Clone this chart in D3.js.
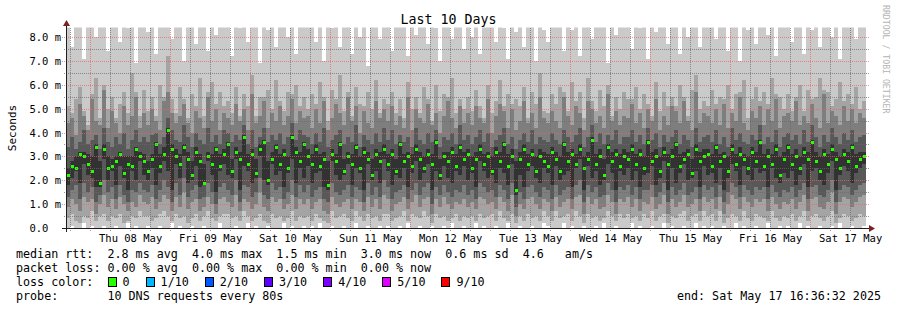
<!DOCTYPE html>
<html>
<head>
<meta charset="utf-8">
<script src="https://cdn.jsdelivr.net/npm/d3@7"></script>
<style>
body { margin: 0; background: #fff; }
text { font-family: "DejaVu Sans Mono", monospace; white-space: pre; }
</style>
</head>
<body>
<div id="container"></div>
<script>
// RTT per time slot, in units of 0.1 ms (10 DNS pings per slot, sorted low..high)
const median = [
    22,26,25,31,30,27,24,34,19,33,25,26,28,31,23,27,26,33,30,28,
    24,29,35,26,31,41,33,30,27,34,29,22,32,28,19,30,27,33,26,31,
    35,24,32,29,38,27,31,23,33,36,20,29,34,27,31,25,38,32,28,35,
    30,27,33,26,29,18,31,28,35,24,30,27,34,25,32,29,22,31,28,33,
    27,31,24,35,28,30,26,33,29,25,31,27,36,22,30,28,32,26,34,29,
    31,25,29,33,27,30,24,32,28,35,26,30,16,29,33,27,31,24,30,28,
    26,32,29,24,35,28,31,27,33,25,29,37,27,30,22,34,28,31,26,30,
    29,33,27,31,25,36,28,30,24,32,27,30,35,26,29,31,23,33,28,30,
    31,26,34,28,30,24,33,27,31,29,25,32,28,36,26,30,27,33,22,29,
    34,27,30,25,32,29,36,28,24,31,27,33,29,25,31,28,34,26,29,30
];
const p1 = [
    0,1,0,0,2,0,1,0,0,1,0,0,1,0,0,2,0,1,0,0,
    1,0,0,1,0,0,2,0,1,0,0,1,0,0,1,0,0,0,2,0,
    0,0,1,0,0,2,0,1,0,0,1,0,0,0,2,0,1,0,0,1,
    0,1,0,2,0,0,1,0,0,1,0,0,2,0,0,1,0,0,1,0,
    1,0,0,1,0,2,0,0,1,0,0,1,0,0,1,0,2,0,0,1,
    0,0,2,0,1,0,0,1,0,0,2,0,0,1,0,0,1,0,0,2,
    1,0,0,0,2,0,1,0,0,1,0,0,1,0,2,0,0,1,0,0,
    0,2,0,1,0,0,1,0,0,2,0,1,0,0,1,0,0,2,0,1,
    0,1,0,0,1,0,0,2,0,1,0,0,1,0,0,2,0,0,1,0,
    1,0,0,2,0,1,0,0,1,0,0,1,0,2,0,0,1,0,0,1
];
const p2 = [
    4,6,3,2,5,4,7,3,5,6,3,5,4,6,2,3,5,4,7,5,
    5,3,4,6,7,5,3,6,4,5,2,4,6,3,5,7,4,3,5,6,
    6,4,5,3,7,5,3,4,6,3,2,6,4,5,3,4,7,3,5,4,
    5,3,6,4,3,2,7,4,5,6,4,3,7,5,3,6,4,5,3,6,
    6,3,4,5,7,3,6,5,4,7,5,2,6,4,5,3,4,6,3,5,
    4,5,3,6,4,5,6,3,7,4,3,6,2,5,3,6,4,5,3,7,
    5,3,7,4,5,6,3,7,5,2,6,4,5,3,4,7,5,3,6,4,
    6,4,5,3,6,4,7,3,5,6,2,5,4,6,7,3,5,6,3,7,
    5,6,3,7,2,4,6,5,3,7,4,3,6,5,4,3,7,4,3,5,
    4,6,3,5,7,3,5,6,4,3,5,7,2,4,6,5,3,4,6,5
];
const p3 = [
    9,12,10,7,13,11,12,6,10,14,9,12,8,13,10,7,11,9,14,11,
    10,13,8,11,14,12,7,13,9,15,8,11,12,7,9,13,10,6,12,13,
    11,9,14,7,12,11,8,10,15,9,7,13,11,12,8,10,14,8,12,10,
    12,8,11,12,7,6,13,10,9,11,12,8,12,11,7,13,9,12,8,14,
    12,7,10,11,13,8,11,14,9,12,13,6,12,9,13,10,8,11,10,12,
    9,11,8,13,12,10,11,8,13,11,7,14,5,10,8,12,13,10,8,12,
    11,7,13,9,11,12,8,13,14,6,13,10,12,8,9,14,11,6,12,11,
    13,9,12,7,11,10,13,8,10,14,6,12,9,11,14,9,10,12,7,13,
    11,12,8,13,6,10,14,12,8,13,11,9,12,11,12,7,13,10,8,11,
    10,12,8,11,14,7,12,13,9,8,11,15,6,11,13,12,9,11,13,14
];
const p4 = [
    13,16,18,12,19,15,17,11,14,20,15,17,12,18,14,11,16,15,19,16,
    15,18,12,16,20,17,11,19,14,21,13,16,18,12,13,19,15,10,17,19,
    16,14,20,11,18,17,13,15,21,14,12,19,16,17,12,15,20,13,18,15,
    18,13,16,17,12,11,19,15,14,16,18,13,17,16,11,19,14,17,13,20,
    17,12,15,16,18,12,16,19,14,17,19,10,17,14,18,15,13,16,15,18,
    14,16,12,19,17,15,16,13,18,16,12,19,9,15,12,17,18,15,13,17,
    16,12,18,14,16,17,12,18,20,11,18,15,17,13,14,19,16,11,17,16,
    18,14,17,12,16,16,18,13,15,19,11,17,14,16,19,14,15,17,12,18,
    16,17,13,18,11,15,19,17,13,18,16,14,17,16,17,12,18,15,13,16,
    15,17,13,16,19,12,17,18,14,13,16,20,11,16,18,17,14,16,18,19
];
const p5 = [
    18,21,24,19,27,22,21,17,17,29,20,24,18,26,21,16,24,20,28,22,
    20,25,18,23,28,24,16,27,21,30,19,20,26,17,18,28,22,15,24,27,
    22,21,29,16,26,24,19,21,30,20,18,27,22,24,17,23,29,19,25,21,
    26,19,23,24,17,16,28,22,20,22,27,18,25,23,16,27,20,24,19,29,
    24,18,22,21,25,17,23,28,20,23,27,16,24,20,26,21,19,24,22,26,
    20,23,17,28,24,21,22,19,25,23,18,27,14,22,17,24,26,21,19,25,
    23,18,26,20,22,24,17,25,29,16,26,21,24,18,20,27,23,16,24,22,
    25,20,24,17,22,23,26,18,21,28,16,25,19,23,27,20,21,24,17,26,
    22,23,19,25,16,21,27,24,18,26,22,20,25,23,24,17,25,21,19,23,
    21,24,18,22,27,17,24,25,20,18,23,28,16,22,26,24,19,23,25,27
];
const p6 = [
    25,28,30,32,32,31,30,35,28,35,30,29,30,32,30,30,30,34,32,31,
    28,31,36,31,34,42,35,33,31,35,32,28,34,31,27,32,31,34,31,33,
    36,29,34,32,39,31,33,29,35,37,28,32,35,31,33,30,39,34,32,36,
    33,31,35,31,32,28,33,31,36,29,32,31,35,30,34,32,29,33,32,35,
    31,33,29,36,31,32,31,35,32,30,33,31,37,29,32,32,34,31,35,32,
    33,30,32,35,31,32,30,34,32,36,31,33,28,32,35,31,33,30,33,32,
    31,34,32,30,36,32,33,31,35,30,32,38,31,33,29,35,32,33,31,33,
    32,35,31,33,30,37,32,33,30,34,31,33,36,31,32,33,29,35,32,33,
    33,31,35,31,32,30,35,31,34,31,30,34,32,37,31,33,31,35,30,32,
    35,31,33,30,34,32,37,32,30,33,31,35,32,30,33,32,35,31,32,32
];
const p7 = [
    34,38,33,36,41,35,37,39,33,42,36,34,38,35,40,33,37,41,36,38,
    36,39,40,35,38,46,41,37,36,43,38,34,40,37,35,42,36,39,35,41,
    40,36,39,37,43,35,41,34,38,42,36,39,37,40,35,38,44,37,41,39,
    38,35,40,36,42,34,37,39,41,35,38,36,43,34,39,37,35,40,36,42,
    37,41,35,39,36,38,34,42,37,35,40,36,41,34,38,37,40,35,43,37,
    39,35,38,41,36,40,34,37,39,42,35,38,33,37,40,36,41,35,38,37,
    36,40,37,35,41,38,36,39,42,34,38,43,36,40,35,39,37,41,35,38,
    38,41,36,39,35,42,37,40,34,39,36,38,41,35,39,37,34,42,36,38,
    39,36,41,35,38,34,42,37,40,36,35,39,37,43,35,38,36,41,34,38,
    40,37,39,35,41,36,43,38,34,39,36,42,38,35,40,37,41,36,38,39
];
const p8 = [
    44,46,39,52,47,41,54,45,43,58,42,49,44,40,51,43,47,55,42,48,
    43,50,45,41,53,57,48,44,47,52,44,40,49,46,42,55,45,50,41,48,
    46,43,52,45,50,41,56,44,47,53,42,48,45,51,43,47,54,44,49,46,
    47,42,50,44,53,41,46,52,48,43,55,45,51,40,49,44,42,53,46,50,
    45,51,43,47,42,55,41,50,46,44,52,43,48,40,47,53,46,42,51,44,
    48,43,51,46,44,54,40,47,52,49,42,50,41,45,53,44,48,42,55,46,
    44,49,45,42,55,47,43,51,48,41,53,50,44,47,42,56,45,49,43,47,
    46,52,44,48,42,50,45,54,41,47,43,51,49,44,53,45,41,57,44,48,
    47,44,50,43,52,42,48,45,55,44,41,49,46,51,43,50,45,54,42,47,
    48,45,53,43,47,44,52,46,42,56,44,49,47,43,51,45,50,44,48,46
];
const p9 = [
    51,48,54,59,49,43,56,63,46,60,50,55,46,52,57,48,65,57,47,58,
    49,55,47,60,55,72,54,48,59,54,46,56,51,63,47,57,61,52,57,51,
    53,48,59,47,56,51,64,47,55,55,58,50,62,53,49,57,56,60,51,55,
    50,56,52,61,55,45,58,54,64,49,57,47,59,52,51,57,50,62,48,54,
    52,57,48,54,46,61,50,55,48,59,54,45,60,49,56,55,63,48,54,50,
    55,49,58,51,46,60,48,53,62,51,56,52,54,51,59,46,57,52,65,49,
    48,56,52,59,57,49,61,53,57,46,63,53,49,58,51,60,47,55,50,57,
    54,54,59,50,56,52,47,61,49,57,51,55,51,60,55,47,58,64,50,53,
    51,58,52,55,54,60,50,56,57,62,46,54,59,53,57,52,63,56,55,50,
    56,49,55,60,49,58,54,55,63,58,57,51,54,61,53,56,52,59,50,53
];
const p10 = [
    90,76,88,95,71,85,92,80,87,99,74,86,93,78,90,84,97,69,88,91,
    82,94,73,89,96,100,79,91,85,70,88,95,77,92,86,74,99,81,90,87,
    93,72,89,84,97,78,91,86,69,95,83,90,76,94,88,80,96,73,91,85,
    87,95,78,92,70,89,84,97,76,91,86,73,94,80,90,68,88,93,79,96,
    91,74,89,86,98,72,93,81,88,95,77,90,84,70,96,87,79,92,85,75,
    94,80,88,73,91,86,97,78,90,84,71,95,82,89,76,93,87,70,98,83,
    78,92,86,95,74,90,83,97,72,88,94,79,91,85,96,69,89,81,93,87,
    90,75,94,84,88,71,96,82,89,93,77,91,86,73,95,80,88,98,76,92,
    85,96,79,91,88,74,93,87,70,95,83,90,77,94,86,81,97,72,89,92,
    94,78,90,86,73,96,83,91,76,88,95,80,92,71,89,85,97,79,87,93
];

const yTicks = [0, 1, 2, 3, 4, 5, 6, 7, 8];
const lossLabels = ["0", "1/10", "2/10", "3/10", "4/10", "5/10", "9/10"];
const lossColors = ["#26ff00", "#00b8ff", "#0059ff", "#5e00ff", "#7e00ff", "#dd00ff", "#ff0000"];
const smokeColors = ["#cacaca", "#a4a4a4", "#7e7e7e", "#585858", "#323232"];
const statLines = [
    "median rtt:  2.8 ms avg  4.0 ms max  1.5 ms min  3.0 ms now  0.6 ms sd  4.6   am/s",
    "packet loss: 0.00 % avg  0.00 % max  0.00 % min  0.00 % now"
];
const probeText = "probe:       10 DNS requests every 80s";
const endText = "end: Sat May 17 16:36:32 2025";
const title = "Last 10 Days";

const width = 897;
const height = 310;
const endTime = new Date(Date.UTC(2025, 4, 17, 16, 36, 32));
const startTime = new Date(+endTime - 10 * 864e5);

const svg = d3.select("#container").append("svg")
    .attr("width", width)
    .attr("height", height);

const x = d3.scaleUtc().domain([startTime, endTime]).range([66, 866]);
const y = d3.scaleLinear().domain([0, 8.4]).range([228, 27.5]);

const pings = [p1, p2, p3, p4, p5, p6, p7, p8, p9, p10];
const n = median.length;
const step = (endTime - startTime) / n;
const cols = d3.range(n).map(i => ({
    t0: new Date(+startTime + i * step),
    t1: new Date(+startTime + (i + 1) * step),
    p: pings.map(a => a[i] / 10),
    med: median[i] / 10
}));

const defs = svg.append("defs");
defs.append("clipPath").attr("id", "clip")
    .append("rect").attr("x", 66).attr("y", 27.5).attr("width", 800).attr("height", 200.5);

// 1px dot patterns for the dotted grid
const minorColor = "#6a6a6a";
const majorColor = "#ec6464";
function dotPattern(id, color, w, h) {
    const p = defs.append("pattern").attr("id", id)
        .attr("patternUnits", "userSpaceOnUse")
        .attr("width", w).attr("height", h);
    p.append("rect").attr("width", 1).attr("height", 1).attr("fill", color);
}
dotPattern("hMinor", minorColor, 2, 1);
dotPattern("vMinor", minorColor, 1, 2);
dotPattern("hMajor", majorColor, 2, 1);
dotPattern("vMajor", majorColor, 1, 2);

const plot = svg.append("g").attr("clip-path", "url(#clip)");

// smoke: band k spans ping k .. ping (9-k)
smokeColors.forEach((c, k) => {
    plot.append("g").attr("fill", c).attr("shape-rendering", "crispEdges")
        .selectAll("rect")
        .data(cols)
        .join("rect")
        .attr("x", d => x(d.t0))
        .attr("width", d => x(d.t1) - x(d.t0))
        .attr("y", d => y(d.p[9 - k]))
        .attr("height", d => y(d.p[k]) - y(d.p[9 - k]));
});

// median, coloured by loss (all 0 here)
plot.append("g").attr("fill", lossColors[0]).attr("shape-rendering", "crispEdges")
    .selectAll("rect")
    .data(cols)
    .join("rect")
    .attr("x", d => x(d.t0) + 1)
    .attr("width", d => x(d.t1) - x(d.t0) - 1)
    .attr("y", d => Math.round(y(d.med)) - 1.5)
    .attr("height", 3);

// grid
const minorY = yTicks.map(v => v + 0.5).filter(v => v < 8.4);
const days = d3.utcDay.range(startTime, endTime);
const hours6 = d3.utcHour.every(6).range(startTime, endTime).filter(t => t.getUTCHours() !== 0);
const grid = svg.append("g").attr("shape-rendering", "crispEdges").attr("opacity", 0.7);

grid.selectAll("rect.hmin").data(minorY).join("rect").attr("class", "hmin")
    .attr("x", 63).attr("width", 806)
    .attr("y", d => Math.round(y(d))).attr("height", 1)
    .attr("fill", "url(#hMinor)");
grid.selectAll("rect.vmin").data(hours6).join("rect").attr("class", "vmin")
    .attr("x", d => Math.floor(x(d))).attr("width", 1)
    .attr("y", 28).attr("height", 203)
    .attr("fill", "url(#vMinor)");
grid.selectAll("rect.hmaj").data(yTicks.slice(1)).join("rect").attr("class", "hmaj")
    .attr("x", 62).attr("width", 807)
    .attr("y", d => Math.round(y(d))).attr("height", 1)
    .attr("fill", "url(#hMajor)");
grid.selectAll("rect.vmaj").data(days).join("rect").attr("class", "vmaj")
    .attr("x", d => Math.floor(x(d))).attr("width", 1)
    .attr("y", 28).attr("height", 204)
    .attr("fill", "url(#vMajor)");

// axes
const axisColor = "#1f1f1f";
const arrowColor = "#7f1f1f";
svg.append("line").attr("x1", 62).attr("x2", 870).attr("y1", 228.5).attr("y2", 228.5)
    .attr("stroke", axisColor);
svg.append("line").attr("x1", 66.5).attr("x2", 66.5).attr("y1", 232).attr("y2", 25)
    .attr("stroke", axisColor);
svg.append("path").attr("d", "M869,225L875,228.5L869,232Z").attr("fill", arrowColor);
svg.append("path").attr("d", "M63,26L66.5,20L70,26Z").attr("fill", arrowColor);

// y tick labels
svg.append("g").selectAll("text").data(yTicks).join("text")
    .attr("x", 61)
    .attr("y", d => y(d) + 4)
    .attr("text-anchor", "end")
    .attr("font-size", "10.5px")
    .attr("fill", "#000")
    .text(d => d === 0 ? "0.0  " : d3.format(".1f")(d) + " m");

// x labels at noon
const fmt = d3.utcFormat("%a %d %b");
svg.append("g").selectAll("text")
    .data(days.map(d => d3.utcHour.offset(d, 12)).filter(t => t < endTime))
    .join("text")
    .attr("x", d => x(d))
    .attr("y", 241.5)
    .attr("text-anchor", "middle")
    .attr("font-size", "10.5px")
    .text(d => fmt(d));

// title, y label, credit
svg.append("text").attr("x", 448.5).attr("y", 24).attr("text-anchor", "middle")
    .attr("font-size", "13.3px").text(title);
svg.append("text").attr("transform", "translate(16,128) rotate(-90)")
    .attr("text-anchor", "middle").attr("font-size", "11px").text("Seconds");
svg.append("text").attr("transform", "translate(883,5) rotate(90)")
    .attr("font-size", "8.2px").attr("fill", "#b4b4b4").text("RRDTOOL / TOBI OETIKER");

// legend
const lf = "11.7px";
const cw = 11.7 * 0.602;
statLines.forEach((s, i) => {
    svg.append("text").attr("x", 16).attr("y", 258 + i * 14).attr("font-size", lf).text(s);
});
svg.append("text").attr("x", 16).attr("y", 286).attr("font-size", lf).text("loss color:");
let bx = 16 + 13 * cw;
lossLabels.forEach((lbl, i) => {
    svg.append("rect").attr("x", Math.round(bx) + 0.5).attr("y", 277.5)
        .attr("width", 8).attr("height", 9)
        .attr("fill", lossColors[i]).attr("stroke", "#000");
    svg.append("text").attr("x", bx + 15).attr("y", 286).attr("font-size", lf).text(lbl);
    bx = bx + 15 + lbl.length * cw + 16;
});
svg.append("text").attr("x", 16).attr("y", 300).attr("font-size", lf).text(probeText);
svg.append("text").attr("x", 881).attr("y", 300).attr("text-anchor", "end")
    .attr("font-size", lf).text(endText);
</script>
</body>
</html>
